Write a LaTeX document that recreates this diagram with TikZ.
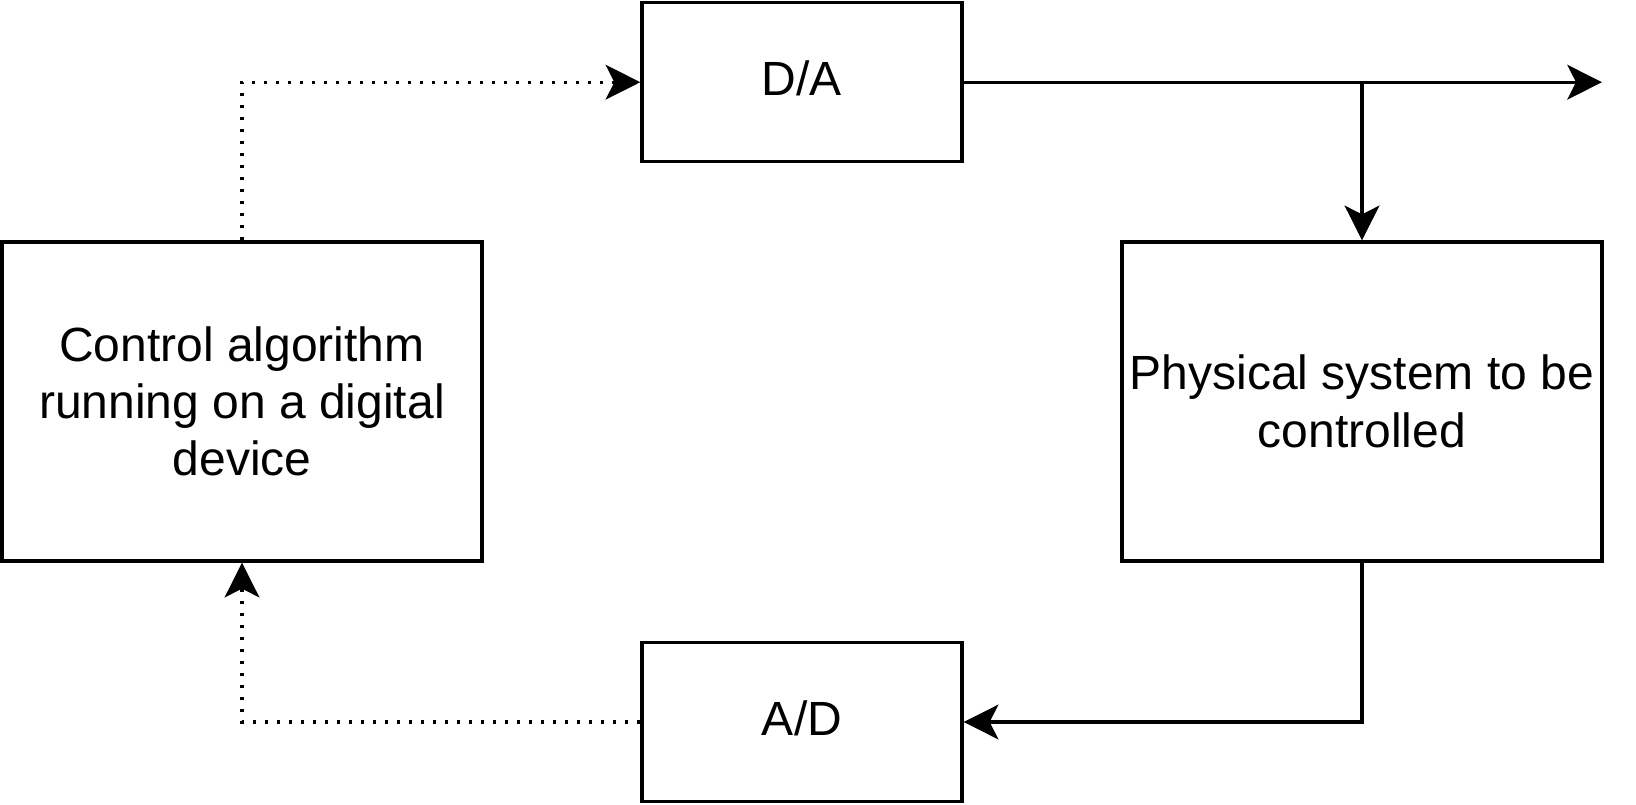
\documentclass[tikz,border=0pt]{standalone}
\usepackage{fontspec}
\setmainfont{Liberation Sans}
\usetikzlibrary{arrows.meta}
\begin{document}
\begin{tikzpicture}[x=0.75pt,y=-0.75pt,
  blockbox/.style={draw=black,line width=2.5pt,fill=white,inner sep=0pt,align=center,
    font=\fontsize{36}{43}\selectfont},
  conn/.style={line width=2.5pt,-{Stealth[length=26pt,width=26pt,inset=6.5pt]}},
  dotconn/.style={conn,dash pattern=on 2.6pt off 6.4pt}]
\useasboundingbox (0,0) rectangle (1636,804);
\node[blockbox,minimum width=240pt,minimum height=119.25pt,text depth=5.4pt] (da) at (802,82.2) {D/A};
\node[blockbox,minimum width=240pt,minimum height=119.5pt,text depth=5.4pt] (ad) at (802,722) {A/D};
\node[blockbox,minimum width=360pt,minimum height=239.25pt] (ctrl) at (242,401.5)
  {Control algorithm\\running on a digital\\device};
\node[blockbox,minimum width=360pt,minimum height=239.25pt] (phys) at (1362,401.5)
  {Physical system to be\\controlled};
\coordinate (out) at (1602,82.2);
\coordinate (branch) at (phys.north |- da.east);
\draw[dotconn] (ctrl.north) |- (da.west);
\draw[conn] (da.east) -- (out);
\draw[conn] (branch) -- (phys.north);
\draw[conn] (phys.south) |- (ad.east);
\draw[dotconn] (ad.west) -| (ctrl.south);
\end{tikzpicture}
\end{document}
